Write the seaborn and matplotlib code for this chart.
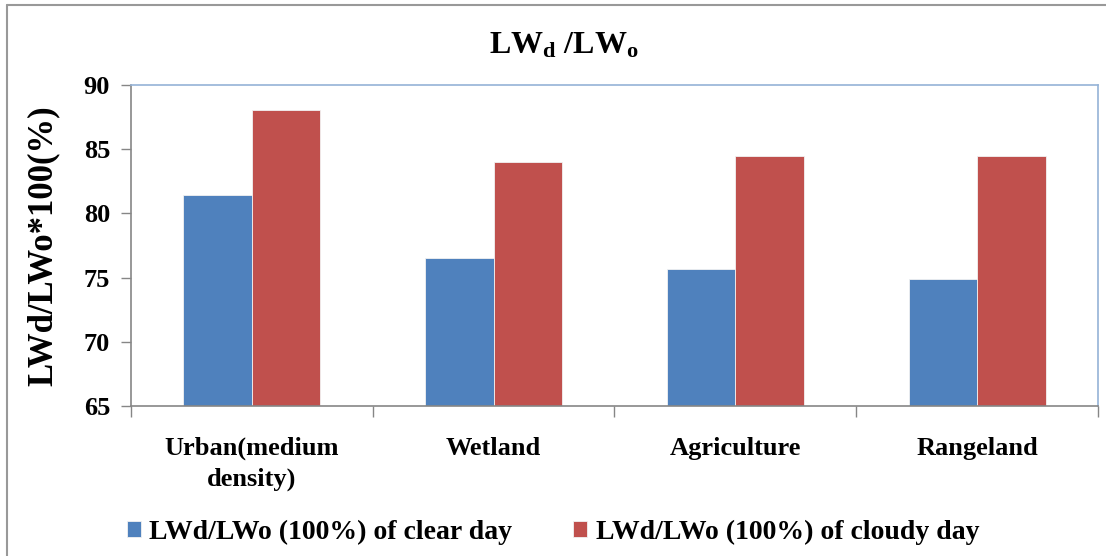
import matplotlib
matplotlib.use("Agg")
import matplotlib.pyplot as plt
import pandas as pd
import seaborn as sns
from matplotlib.lines import Line2D

categories = ["Urban(medium\ndensity)", "Wetland", "Agriculture", "Rangeland"]
series_names = ["LWd/LWo (100%) of clear day", "LWd/LWo (100%) of cloudy day"]
clear_day = [81.4, 76.5, 75.65, 74.9]
cloudy_day = [88.03, 83.98, 84.45, 84.49]
y_ticks = [65, 70, 75, 80, 85, 90]

sns.set_theme(style="white")
plt.rcParams["font.family"] = ["Liberation Serif", "DejaVu Serif"]
plt.rcParams["font.weight"] = "bold"
plt.rcParams["text.color"] = "black"
plt.rcParams["xtick.color"] = "black"
plt.rcParams["ytick.color"] = "black"
plt.rcParams["axes.labelcolor"] = "black"
plt.rcParams["mathtext.fontset"] = "custom"
plt.rcParams["mathtext.rm"] = "Liberation Serif:bold"
plt.rcParams["mathtext.it"] = "Liberation Serif:bold"
plt.rcParams["mathtext.bf"] = "Liberation Serif:bold"

df = pd.DataFrame({
    "category": categories * 2,
    "series": [series_names[0]] * 4 + [series_names[1]] * 4,
    "value": clear_day + cloudy_day,
})

fig = plt.figure(figsize=(11.06, 5.56), dpi=100)
ax = fig.add_axes([0.1184, 0.2698, 0.8744, 0.5773])

sns.barplot(data=df, x="category", y="value", hue="series",
            palette=["#4F81BD", "#C0504D"], saturation=1, width=0.567, ax=ax,
            edgecolor="#F2F2F2", linewidth=0.6)

ax.set_ylim(65, 90)
ax.set_xlim(-0.5, 3.5)
ax.set_yticks(y_ticks)
ax.set_yticklabels([str(t) for t in y_ticks], fontsize=19, fontweight="bold")
ax.set_xticks(range(len(categories)))
ax.set_xticklabels(categories, fontsize=19, fontweight="bold", linespacing=1.4)
ax.set_xticks([-0.5, 0.5, 1.5, 2.5, 3.5], minor=True)
ax.tick_params(axis="x", which="major", length=0, pad=22)
ax.tick_params(axis="x", which="minor", length=8, color="#868686", width=1,
               direction="out", bottom=True)
ax.tick_params(axis="y", which="major", length=7, color="#868686", width=1,
               direction="out", left=True, pad=8)

ax.set_xlabel("")
ax.set_ylabel("LWd/LWo*100(%)", fontsize=25, fontweight="bold", labelpad=17)

for side in ["left", "bottom"]:
    ax.spines[side].set_color("#868686")
    ax.spines[side].set_linewidth(1.2)
for side in ["top", "right"]:
    ax.spines[side].set_color("#95B3D7")
    ax.spines[side].set_linewidth(1.2)

ax.legend_.remove()
handles, labels = ax.get_legend_handles_labels()
fig.legend(handles, labels, loc="center", bbox_to_anchor=(0.5, 0.043), ncol=2,
           frameon=False, handlelength=0.5, handleheight=0.5,
           handletextpad=0.3, columnspacing=2.2,
           prop={"family": "Liberation Serif", "weight": "bold", "size": 20})

fig.text(0.51, 0.918, r"$\mathrm{LW_d}$ /$\mathrm{LW_o}$", ha="center",
         va="center", fontsize=23, fontweight="bold")

# outer chart border (top and left only, as in the source)
fig.add_artist(Line2D([0.0065, 0.0065], [0.0, 0.991], transform=fig.transFigure,
                      color="#999999", linewidth=1.5))
fig.add_artist(Line2D([0.0065, 1.0], [0.991, 0.991], transform=fig.transFigure,
                      color="#999999", linewidth=1.5))

fig.savefig("out.png", dpi=100, facecolor="white")
